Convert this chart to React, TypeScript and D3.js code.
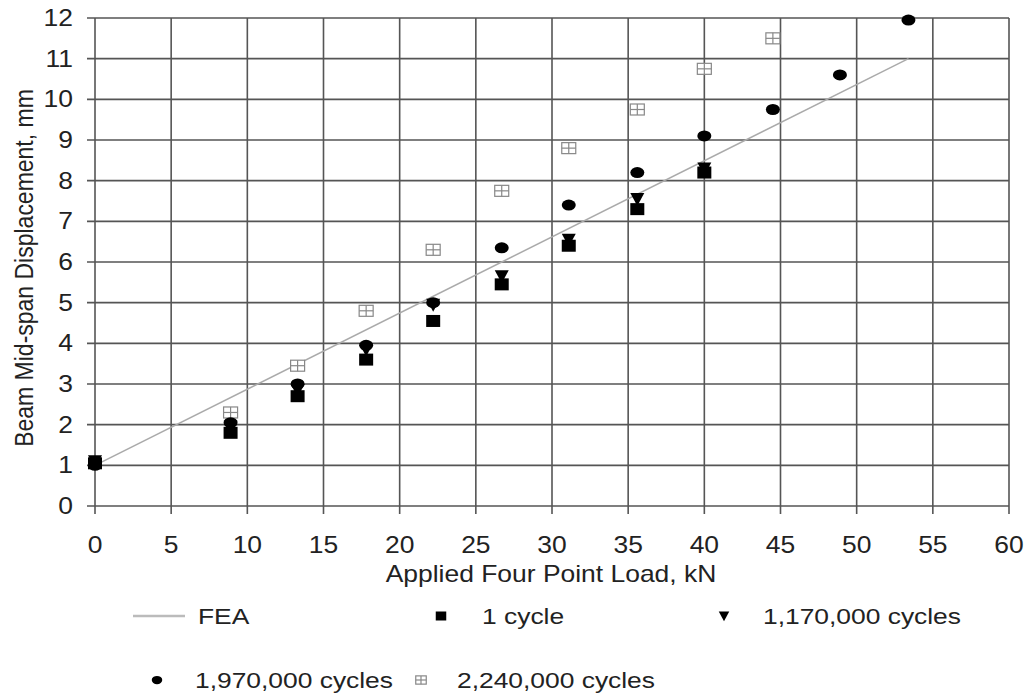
import React, { useRef, useEffect } from "react";
import * as d3 from "d3";

const loads = [0, 8.9, 13.3, 17.8, 22.2, 26.7, 31.1, 35.6, 40.0, 44.5, 48.9, 53.4];
const feaLoads = [0, 53.4];
const feaDisp = [1.0, 11.0];
const cycle1 = [1.05, 1.8, 2.7, 3.6, 4.55, 5.45, 6.4, 7.3, 8.2];
const cycle1170k = [1.1, 1.95, 2.85, 3.85, 4.95, 5.65, 6.55, 7.55, 8.3];
const cycle1970k = [1.0, 2.05, 3.0, 3.95, 5.0, 6.35, 7.4, 8.2, 9.1, 9.75, 10.6, 11.95];
const cycle2240k = [null, 2.3, 3.45, 4.8, 6.3, 7.75, 8.8, 9.75, 10.75, 11.5];
const xTicks = [0, 5, 10, 15, 20, 25, 30, 35, 40, 45, 50, 55, 60];
const yTicks = [0, 1, 2, 3, 4, 5, 6, 7, 8, 9, 10, 11, 12];

const FONT = "'Liberation Sans', Arial, sans-serif";
const SX = 1.17; // the original text is a bit stretched horizontally

function drawMarker(g: any, kind: string, cx: number, cy: number, s = 1) {
  if (kind === "square") {
    g.append("rect").attr("x", cx - 7 * s).attr("y", cy - 6 * s)
      .attr("width", 14 * s).attr("height", 12 * s).attr("fill", "#000");
  } else if (kind === "tri") {
    g.append("path")
      .attr("d", `M${cx - 7 * s},${cy - 6 * s}L${cx + 7 * s},${cy - 6 * s}L${cx},${cy + 7 * s}Z`)
      .attr("fill", "#000");
  } else if (kind === "circle") {
    g.append("ellipse").attr("cx", cx).attr("cy", cy)
      .attr("rx", 7 * s).attr("ry", 5.5 * s).attr("fill", "#000");
  } else if (kind === "hash") {
    const w = 14 * s, h = 11 * s;
    g.append("rect").attr("x", cx - w / 2).attr("y", cy - h / 2)
      .attr("width", w).attr("height", h)
      .attr("fill", "#fff").attr("stroke", "#888").attr("stroke-width", 1.2);
    g.append("line").attr("x1", cx).attr("x2", cx).attr("y1", cy - h / 2).attr("y2", cy + h / 2)
      .attr("stroke", "#888").attr("stroke-width", 1.2);
    g.append("line").attr("x1", cx - w / 2).attr("x2", cx + w / 2).attr("y1", cy).attr("y2", cy)
      .attr("stroke", "#888").attr("stroke-width", 1.2);
  }
}

// text placed at (x, y) then stretched horizontally around its anchor
function stretchedText(g: any, x: number, y: number, txt: string, size: number, anchor = "start", sx = SX) {
  return g.append("text")
    .attr("transform", `translate(${x},${y}) scale(${sx},1)`)
    .attr("text-anchor", anchor)
    .style("font-family", FONT).style("font-size", `${size}px`).attr("fill", "#222")
    .text(txt);
}

const App = () => {
  const ref = useRef<SVGSVGElement>(null);
  const width = 1027;
  const height = 698;

  useEffect(() => {
    const svg = d3.select(ref.current);
    svg.selectAll("*").remove();

    const x = d3.scaleLinear().domain([0, 60]).range([95, 1009]);
    const y = d3.scaleLinear().domain([0, 12]).range([506, 18]);

    // gridlines
    const grid = svg.append("g");
    yTicks.forEach((t) => {
      grid.append("line").attr("x1", x(0) - 8).attr("x2", x(60))
        .attr("y1", y(t)).attr("y2", y(t))
        .attr("stroke", "#555").attr("stroke-width", 1.6);
    });
    xTicks.forEach((t) => {
      grid.append("line").attr("x1", x(t)).attr("x2", x(t))
        .attr("y1", y(12)).attr("y2", y(0) + 8)
        .attr("stroke", "#555").attr("stroke-width", 1.6);
    });

    // tick labels
    const tl = svg.append("g");
    yTicks.forEach((t) => stretchedText(tl, 73, y(t) + 8, String(t), 23, "end", 1.15));
    xTicks.forEach((t) => stretchedText(tl, x(t), 553, String(t), 23, "middle", 1.15));

    // axis titles
    stretchedText(svg, 551, 582, "Applied Four Point Load, kN", 23, "middle", 1.15);
    svg.append("text")
      .attr("transform", `translate(33, 268) scale(1.15,1) rotate(-90)`)
      .attr("text-anchor", "middle")
      .style("font-family", FONT).style("font-size", "23px").attr("fill", "#222")
      .text("Beam Mid-span Displacement, mm");

    // FEA line
    const line = d3.line<number>().x((d, i) => x(feaLoads[i])).y((d) => y(d));
    svg.append("path").datum(feaDisp).attr("d", line)
      .attr("fill", "none").attr("stroke", "#aaa").attr("stroke-width", 1.5);

    const pts = svg.append("g");
    cycle2240k.forEach((v, i) => { if (v != null) drawMarker(pts, "hash", x(loads[i]), y(v)); });
    cycle1.forEach((v, i) => drawMarker(pts, "square", x(loads[i]), y(v)));
    cycle1170k.forEach((v, i) => drawMarker(pts, "tri", x(loads[i]), y(v)));
    cycle1970k.forEach((v, i) => drawMarker(pts, "circle", x(loads[i]), y(v)));

    // legend
    const leg = svg.append("g");
    const items = [
      { kind: "line", label: "FEA", mx: 159, tx: 198, y: 616 },
      { kind: "square", label: "1 cycle", mx: 441, tx: 482, y: 616 },
      { kind: "tri", label: "1,170,000 cycles", mx: 724, tx: 763, y: 616 },
      { kind: "circle", label: "1,970,000 cycles", mx: 157, tx: 195, y: 680 },
      { kind: "hash", label: "2,240,000 cycles", mx: 421, tx: 457, y: 680 },
    ];
    items.forEach((it) => {
      if (it.kind === "line") {
        leg.append("line").attr("x1", 133).attr("x2", 185).attr("y1", it.y).attr("y2", it.y)
          .attr("stroke", "#bbb").attr("stroke-width", 2.5);
      } else {
        drawMarker(leg, it.kind, it.mx, it.y, 0.75);
      }
      stretchedText(leg, it.tx, it.y + 8, it.label, 22, "start", 1.2);
    });
  }, []);

  return (
    <svg ref={ref} width={width} height={height}
      style={{ position: "absolute", left: 0, top: 0, background: "#fff" }} />
  );
};

export default App;
